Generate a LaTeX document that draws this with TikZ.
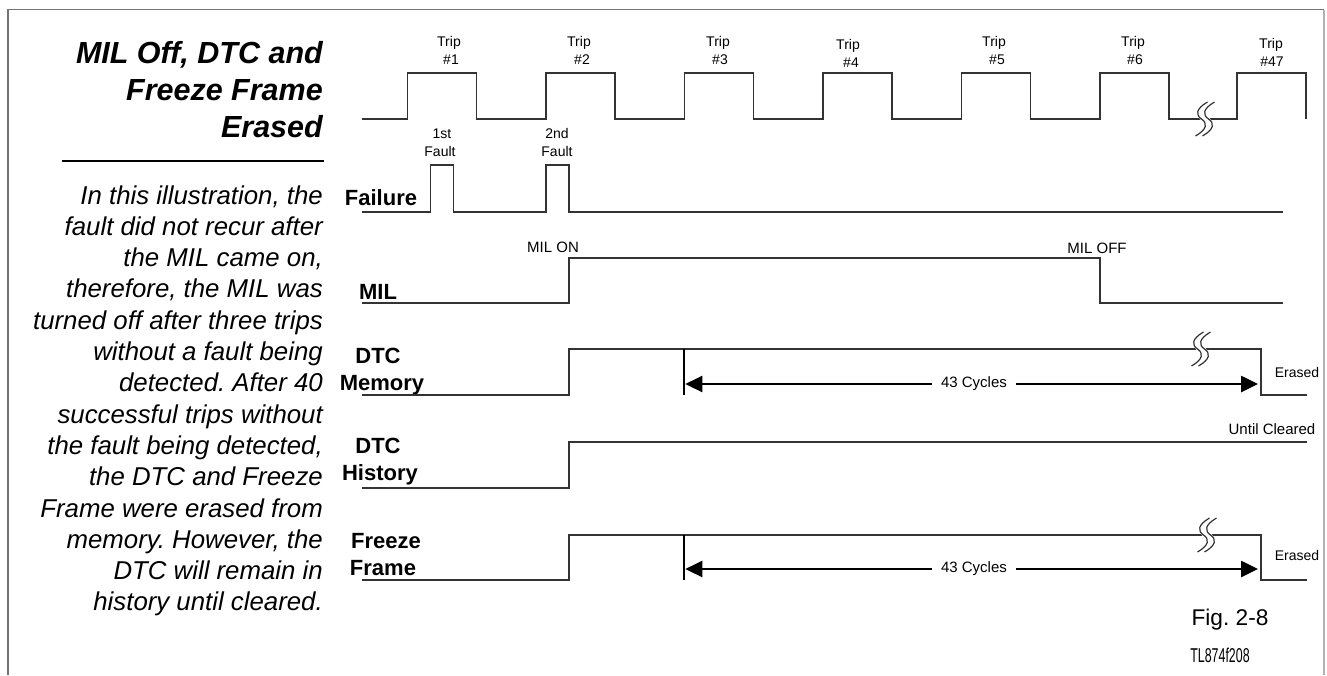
\documentclass[tikz,border=0pt]{standalone}
\usepackage{fontspec}
\setmainfont{Liberation Sans}
\newfontfamily\narrowfont[FakeStretch=0.62]{Liberation Sans}
\usetikzlibrary{arrows.meta}
\frenchspacing
\begin{document}
\begin{tikzpicture}[x=1pt,y=-1pt,
  sig/.style={draw=black!80, line width=1.4pt},
  frm/.style={draw=black!55, line width=1.6pt},
  frmr/.style={draw=black!30, line width=1.4pt},
  bar/.style={draw=black, line width=2.6pt},
  dim/.style={draw=black, line width=2.6pt, {Triangle[length=17pt,width=16pt]}-{Triangle[length=17pt,width=16pt]}},
  sm/.style={font=\fontsize{14}{16}\selectfont, inner sep=0pt, anchor=base},
  md/.style={font=\fontsize{15}{17}\selectfont, inner sep=0pt, anchor=base},
  lbl/.style={font=\fontsize{22}{26}\selectfont\bfseries, inner sep=0pt, anchor=base},
  body/.style={font=\fontsize{25.8}{31}\selectfont\itshape, inner sep=0pt, anchor=base east},
  ttl/.style={font=\fontsize{30.5}{36}\selectfont\bfseries\itshape, inner sep=0pt, anchor=base east},
  brk/.pic={
    \draw[white, line width=7pt] (6,-17) .. controls (-6,-10) and (-6,-4) .. (0,0) .. controls (6,4) and (6,10) .. (-6,17);
    \draw[sig, line width=1.2pt] (2.5,-17) .. controls (-9.5,-10) and (-9.5,-4) .. (-3.5,0) .. controls (2.5,4) and (2.5,10) .. (-9.5,17);
    \draw[sig, line width=1.2pt] (9.5,-17) .. controls (-2.5,-10) and (-2.5,-4) .. (3.5,0) .. controls (9.5,4) and (9.5,10) .. (-2.5,17);
  }
]
\useasboundingbox (0,0) rectangle (1327,675);
% frame
\draw[frm] (8,675) -- (8,9.5) -- (1324,9.5);
\draw[frmr] (1324,9.5) -- (1324,675);

% title
\node[ttl] (t1) at (323,63) {MIL Off, DTC and};
\node[ttl] (t2) at (323,100) {Freeze Frame};
\node[ttl] (t3) at (323,137) {Erased};
\draw[black, line width=1.5pt] (62,161) -- (324,161);

% body text
\foreach \txt [count=\i] in {{In this illustration, the},{fault did not recur after},{the MIL came on,},{therefore, the MIL was},{turned off after three trips},{without a fault being},{detected. After 40},{successful trips without},{the fault being detected,},{the DTC and Freeze},{Frame were erased from},{memory. However, the},{DTC will remain in},{history until cleared.}}
  \node[body] (b\i) at (323,{204+31.3*(\i-1)}) {\txt};

% signal labels
\node[lbl] (lfail) at (381,205) {Failure};
\node[lbl] (lmil) at (378,299) {MIL};
\node[lbl] (lmem1) at (378,363) {DTC};
\node[lbl] (lmem2) at (382,390) {Memory};
\node[lbl] (lhis1) at (378,453) {DTC};
\node[lbl] (lhis2) at (380,480) {History};
\node[lbl] (lfrz1) at (386,548) {Freeze};
\node[lbl] (lfrz2) at (383,575) {Frame};

% trip waveform
\draw[sig] (362,119) -- (407.3,119) -- (407.3,73) -- (476.6,73) -- (476.6,119)
  -- (545.8,119) -- (545.8,73) -- (615.1,73) -- (615.1,119)
  -- (684.3,119) -- (684.3,73) -- (753.6,73) -- (753.6,119)
  -- (822.8,119) -- (822.8,73) -- (892.1,73) -- (892.1,119)
  -- (961.3,119) -- (961.3,73) -- (1030.6,73) -- (1030.6,119)
  -- (1099.8,119) -- (1099.8,73) -- (1169.1,73) -- (1169.1,119)
  -- (1237,119) -- (1237,73) -- (1306,73) -- (1306,119);
\pic at (1205,119) {brk};

% trip labels
\foreach \n/\xa/\xb/\ya in {1/449/451/0,2/579/582/0,3/718/720/0,4/848/851/3,5/994/997/0,6/1133/1135/0,47/1271/1272/2}{
  \node[sm] (trip\n) at (\xa,46+\ya) {Trip};
  \node[sm] (tripn\n) at (\xb,64+\ya) {\#\n};
}

% failure
\node[sm] (f1a) at (442,138) {1st};
\node[sm] (f1b) at (440,156) {Fault};
\node[sm] (f2a) at (557,138) {2nd};
\node[sm] (f2b) at (557,156) {Fault};
\draw[sig] (362,212) -- (430.7,212) -- (430.7,165) -- (453.3,165) -- (453.3,212)
  -- (545.8,212) -- (545.8,165) -- (569,165) -- (569,212) -- (1283,212);

% MIL
\node[md] (milon) at (553,252.5) {MIL ON};
\node[md] (miloff) at (1097,253) {MIL OFF};
\draw[sig] (362,303) -- (569,303) -- (569,258) -- (1099.8,258) -- (1099.8,303) -- (1283,303);

% DTC memory
\draw[sig] (362,395) -- (569,395) -- (569,349) -- (1261,349) -- (1261,395) -- (1306.5,395);
\pic at (1201,349) {brk};
\draw[bar] (684,349) -- (684,395);
\coordinate (ma) at (685.3,384);
\coordinate (mb) at (1258,384);
\draw[dim] (ma) -- (mb);
\node[md, anchor=center, fill=white, inner xsep=9pt, inner ysep=2pt] (mcyc) at (974,384) {43 Cycles};
\node[sm] (merased) at (1297,377) {Erased};

% DTC history
\draw[sig] (362,488) -- (569,488) -- (569,442) -- (1306.5,442);
\node[md] (uc) at (1272,434) {Until Cleared};

% Freeze frame
\draw[sig] (362,580) -- (569,580) -- (569,535) -- (1261,535) -- (1261,580) -- (1306.5,580);
\pic at (1207,535) {brk};
\draw[bar] (684,535) -- (684,580);
\coordinate (fa) at (685.3,569);
\coordinate (fb) at (1258,569);
\draw[dim] (fa) -- (fb);
\node[md, anchor=center, fill=white, inner xsep=9pt, inner ysep=2pt] (fcyc) at (974,569) {43 Cycles};
\node[sm] (ferased) at (1297,560) {Erased};

% figure ids
\node[font=\fontsize{22.7}{26}\selectfont, inner sep=0pt, anchor=base] (fig) at (1230,625) {Fig. 2-8};
\node[font=\fontsize{20}{24}\selectfont\narrowfont, inner sep=0pt, anchor=base] (tl) at (1220,662) {TL874f208};
\end{tikzpicture}
\end{document}
